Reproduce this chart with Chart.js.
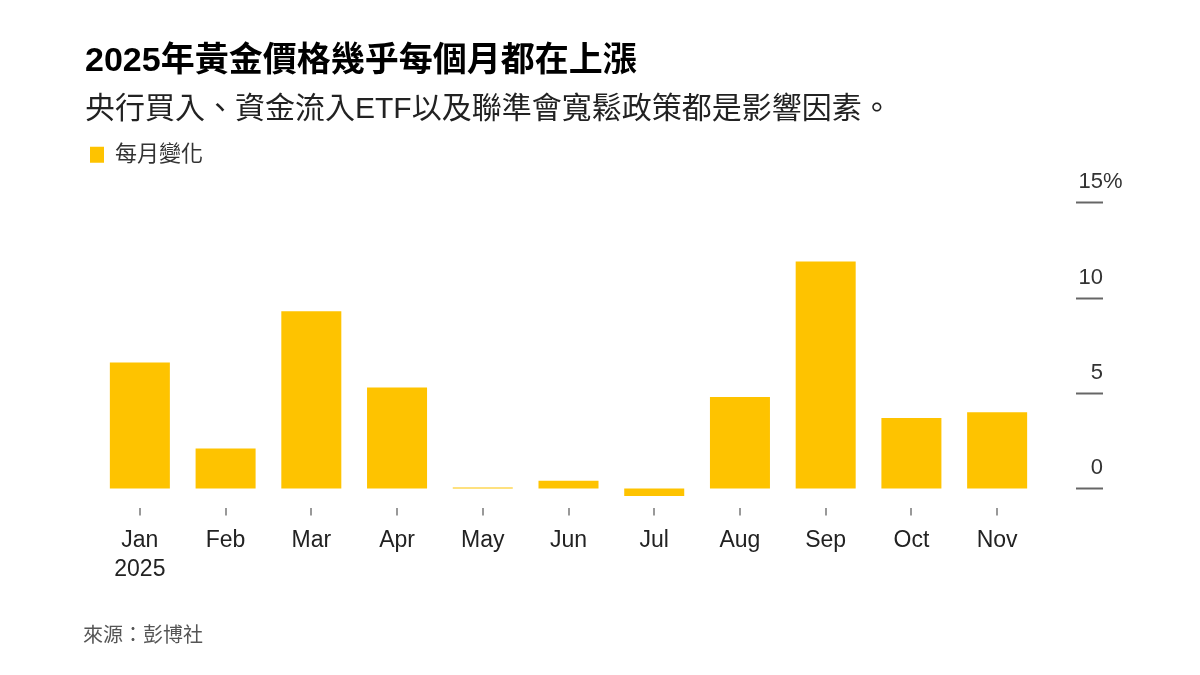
<!DOCTYPE html>
<html>
<head>
<meta charset="utf-8">
<script src="https://cdn.jsdelivr.net/npm/chart.js@4.4.1/dist/chart.umd.min.js"></script>
<style>
  html, body { margin: 0; padding: 0; background: #fff; }
  #wrap { position: relative; width: 1200px; height: 675px; }
  #source {
    position: absolute; left: 83px; top: 619px;
    font: 20px 'Liberation Sans', 'Noto Sans CJK TC', sans-serif;
    color: #555;
  }
</style>
</head>
<body>
<div id="wrap">
  <canvas id="myChart" width="1200" height="675"></canvas>
  <div id="source">來源：彭博社</div>
</div>
<script>
const months = ['Jan', 'Feb', 'Mar', 'Apr', 'May', 'Jun', 'Jul', 'Aug', 'Sep', 'Oct', 'Nov'];
const yearLabel = '2025';
const monthlyChange = [6.6, 2.1, 9.3, 5.3, 0.05, 0.4, -0.4, 4.8, 11.9, 3.7, 4.0];
const yTicks = [0, 5, 10, 15];

const titleText = '2025年黃金價格幾乎每個月都在上漲';
const subtitleText = '央行買入、資金流入ETF以及聯準會寬鬆政策都是影響因素。';
const seriesLabel = '每月變化';

const FONT = "'Liberation Sans', 'Noto Sans CJK TC', sans-serif";
const gold = '#fec300';

// y labels sit above short dashes to the right of the bars
const rightTicks = {
  id: 'rightTicks',
  afterDraw(chart) {
    const ctx = chart.ctx;
    const y = chart.scales.y;
    const area = chart.chartArea;
    const x0 = area.right + 36;
    const x1 = area.right + 63;
    ctx.save();
    yTicks.forEach((v) => {
      const py = Math.round(y.getPixelForValue(v)) + 0.5;
      ctx.strokeStyle = '#666';
      ctx.lineWidth = 2;
      ctx.beginPath();
      ctx.moveTo(x0, py);
      ctx.lineTo(x1, py);
      ctx.stroke();
      ctx.fillStyle = '#333';
      ctx.font = '22px ' + FONT;
      ctx.textBaseline = 'middle';
      ctx.textAlign = 'right';
      ctx.fillText(String(v), x1, py - 21);
      if (v === yTicks[yTicks.length - 1]) {
        ctx.textAlign = 'left';
        ctx.fillText('%', x1, py - 21);
      }
    });
    ctx.restore();
  },
};

const chart = new Chart(document.getElementById('myChart'), {
  type: 'bar',
  data: {
    labels: months.map((m, i) => (i === 0 ? [m, yearLabel] : m)),
    datasets: [
      {
        label: seriesLabel,
        data: monthlyChange,
        backgroundColor: gold,
        borderWidth: 0,
        barPercentage: 0.7,
        categoryPercentage: 1.0,
      },
    ],
  },
  options: {
    responsive: false,
    animation: false,
    layout: {
      padding: { left: 85, right: 160, top: 0, bottom: 80 },
    },
    plugins: {
      title: {
        display: true,
        text: titleText,
        align: 'start',
        color: '#000',
        font: { family: FONT, size: 34, weight: 'bold', lineHeight: 1.2 },
        padding: { top: 41, bottom: 4 },
      },
      subtitle: {
        display: true,
        text: subtitleText,
        align: 'start',
        color: '#222',
        font: { family: FONT, size: 30, weight: 'normal', lineHeight: 1.2 },
        padding: { top: 6, bottom: 11 },
      },
      legend: {
        display: true,
        position: 'top',
        align: 'start',
        labels: {
          boxWidth: 14,
          boxHeight: 16,
          padding: 5,
          color: '#333',
          font: { family: FONT, size: 22 },
        },
      },
      tooltip: { enabled: false },
    },
    scales: {
      x: {
        grid: {
          display: true,
          drawOnChartArea: false,
          offset: false,
          tickLength: 8,
          color: '#999',
          lineWidth: 2,
        },
        border: { display: false },
        ticks: {
          color: '#222',
          padding: 11,
          maxRotation: 0,
          font: { family: FONT, size: 23, lineHeight: 1.25 },
        },
      },
      y: {
        position: 'left',
        min: -1,
        max: 16.4,
        grid: { display: false },
        border: { display: false },
        ticks: { display: false },
        afterFit(scale) {
          scale.width = 12;
        },
      },
    },
  },
  plugins: [rightTicks],
});
</script>
</body>
</html>
